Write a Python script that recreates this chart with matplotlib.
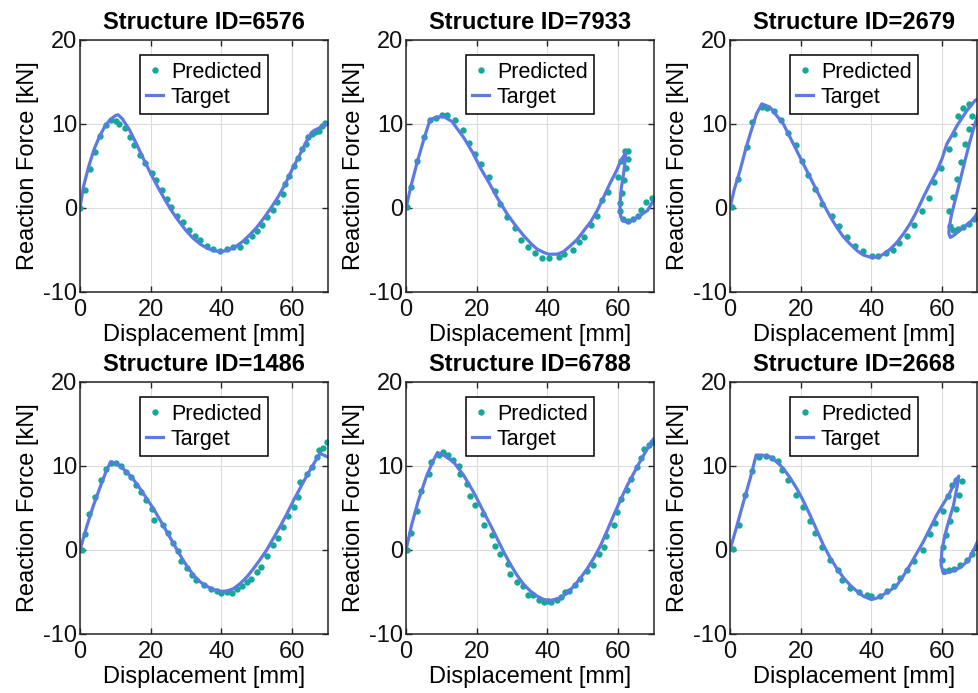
import matplotlib
matplotlib.use("Agg")
import matplotlib.pyplot as plt

plt.rcParams['font.family'] = ['Liberation Sans', 'DejaVu Sans']
plt.rcParams['axes.unicode_minus'] = False

# ---- data: displacement [mm] / reaction force [kN] ----
structure_ids = ["6576", "7933", "2679", "1486", "6788", "2668"]

# Structure 6576
t6576_x = [0, 1, 2.5, 4, 5.5, 7, 8.5, 10, 10.8, 12, 14, 16, 18, 20, 22, 24, 26, 28, 30, 32,
           34, 36, 38, 40, 42, 44, 46, 48, 50, 52, 54, 56, 58, 60, 62, 64, 65.5, 66.5, 68, 70]
t6576_y = [0, 2.6, 5, 7, 8.5, 9.7, 10.5, 11, 11.1, 10.6, 9.3, 7.6, 5.8, 4.1, 2.5, 1.0, -0.4, -1.6, -2.7, -3.6,
           -4.3, -4.8, -5.1, -5.2, -5.0, -4.6, -4.0, -3.2, -2.3, -1.2, 0, 1.3, 2.8, 4.6, 6.2, 7.9, 9.0, 9.3, 9.6, 10.1]
p6576_x = [0, 1.4, 2.8, 4.2, 5.7, 7.4, 8.8, 10.1, 11.1, 12.7, 14.2, 15.4, 17, 18.4, 20.3, 21.5, 23.1,
           24.5, 25.8, 27.4, 29, 30.7, 32.5, 34, 35.8, 37.7, 39.6, 41.5, 43.4, 45.3, 47, 48.6, 50,
           51.6, 52.8, 54.5, 55.7, 57.4, 58, 59.2, 60.4, 61.6, 62.7, 64, 64.6, 65.6, 66.5, 67.5, 68.4, 69.3]
p6576_y = [0, 2.2, 4.6, 6.7, 8.6, 9.9, 10.5, 10.4, 10.0, 9.5, 8.4, 7.5, 6.3, 5.4, 4.2, 3.3, 2.1,
           1.1, 0.1, -1, -1.7, -2.6, -3.3, -3.8, -4.5, -4.9, -5.1, -4.9, -4.7, -4.6, -3.9, -3.3, -2.7,
           -2, -1.1, -0.2, 0.7, 1.7, 2.9, 3.8, 5, 6, 7, 7.6, 8.4, 8.8, 9, 9.2, 9.8, 10.1]

# Structure 7933
t7933_x = [0, 1.4, 3.2, 5.2, 6.8, 8.5, 10.6, 13, 16.3, 19, 21, 23.5, 25.7, 28.6, 31, 33.3, 35.5,
           37.1, 39, 40.4, 42.8, 44.5, 46.5, 48.5, 50.3, 52.3, 54.1, 56, 57.9, 59.5, 60.7, 62.2,
           61.9, 61.5, 60.9, 60.6, 60.5, 60.8, 61.7, 63.1, 65.5, 68.3, 70]
t7933_y = [0, 2.6, 5.5, 8.4, 10.5, 10.8, 10.9, 10.3, 8.4, 6.5, 4.8, 3, 1.3, -0.7, -2.1, -3.3, -4.3,
           -4.9, -5.3, -5.5, -5.5, -5.2, -4.5, -3.7, -2.7, -1.6, -0.3, 1.4, 3.1, 4.4, 5.6, 6.6,
           5.3, 4, 2.4, 0.9, -0.4, -1.1, -1.6, -1.7, -1.1, -0.3, 0.9]
p7933_x = [0.2, 1.4, 3.2, 5.2, 6.8, 8.5, 10.1, 11.7, 13.9, 16, 17.8, 19.6, 21.2, 23.6, 25.1, 26.7,
           28.6, 30.7, 32.5, 34.6, 36.5, 38.5, 40.4, 43.2, 44.8, 47.1, 48.9, 50.3, 52.2, 53.9, 55.5,
           57.2, 60, 60.9, 62, 62.9, 62.8, 62.2, 61.7, 61.2, 60.5, 60.5, 61.5, 62.8, 64.3, 65.5,
           66.4, 67.8, 69.7]
p7933_y = [0.1, 2.5, 5.6, 8.4, 10.5, 10.7, 11.1, 11.1, 10.5, 9.3, 7.7, 6.4, 5.2, 3.7, 2.0, 0.5,
           -1.1, -2.4, -3.8, -4.7, -5.4, -6.0, -6.0, -5.8, -5.5, -5.0, -4.0, -3.5, -2.0, -0.9, 0.9,
           1.9, 3.7, 5.6, 6.8, 6.8, 5.8, 4.8, 3.3, 1.8, 0.6, -0.4, -1.3, -1.6, -1.3, -0.9,
           -0.2, 0.7, 1.2]

# Structure 2679
t2679_x = [0, 1.2, 2.8, 4.3, 5.7, 7.5, 9, 11.3, 13, 15.1, 17, 18.9, 20.8, 22.6, 24.5, 26.4, 28.3,
           30.2, 32, 34, 36, 37.7, 40.1, 42, 43.4, 45.3, 47.2, 49, 50.9, 52.8, 54.7, 56.6, 58.5, 60,
           61.3, 62.8, 64.2, 65.6, 67, 68.2, 69.3, 70.5, 71.2, 70.8, 70.0, 69, 67.9, 66.5, 65.1,
           63.9, 62.7, 62.0, 61.9, 62.3, 63.2, 64.6, 66, 67.5, 68.9, 70.3]
t2679_y = [0, 2.2, 4.4, 6.8, 8.8, 11.2, 12.4, 12, 11.1, 10, 8.4, 6.8, 5.2, 3.7, 2.1, 0.5, -1,
           -2.3, -3.4, -4.3, -5.1, -5.6, -5.9, -5.8, -5.5, -4.9, -4.1, -3.1, -1.9, -0.4, 1.3, 2.9, 4.4, 5.9,
           7.6, 8.7, 9.8, 10.7, 11.6, 12.2, 12.8, 13.1, 13.0, 12.2, 11.0, 9.6, 8.0, 5.7, 3.3,
           1.3, -0.7, -2.3, -3.0, -3.5, -3.3, -2.8, -2.3, -1.8, -1.3, -0.3]
p2679_x = [0.5, 2.4, 4.7, 6.1, 9, 10.4, 12.5, 14.4, 16.3, 18.6, 20.5, 22.2, 23.9, 25.9, 28.8, 30.7,
           33, 35.4, 37.5, 40.1, 41.8, 44.2, 46, 47.9, 50, 51.9, 54.2, 56.3, 57.8, 59.6, 62, 63.4,
           64.6, 66, 67.5, 68.4, 67.7, 66.5, 65.3, 64.2, 63, 61.8, 62.3, 63.2, 64.6, 66, 67.5, 68.9]
p2679_y = [0.1, 3.4, 7.3, 10.2, 12, 11.9, 11.5, 10.5, 8.9, 7.5, 5.6, 3.9, 2.3, 0.5, -0.9, -2.2,
           -3.5, -4.5, -5.1, -5.7, -5.7, -5.4, -5, -4.2, -3.3, -2, -0.4, 1.2, 3.1, 4.8, 7, 8.8,
           10.9, 11.9, 12.4, 11, 9.4, 7.6, 5.5, 3.5, 1.3, -0.4, -2.2, -2.6, -2.5, -2.3, -1.9, -1.3]

# Structure 1486
t1486_x = [0, 1.9, 3.8, 5.7, 7.5, 8.7, 10.4, 13.2, 15.1, 17, 18.9, 20.8, 22.6, 24.5, 26.4, 28.3,
           30.2, 32.1, 34, 35.8, 37.7, 39.6, 41.5, 43.4, 45.3, 47.2, 49.1, 51, 52.8, 54.7, 56.6,
           58.5, 60.4, 62.3, 64.2, 65.6, 67, 67.9, 68.9, 70]
t1486_y = [0, 2.8, 5.3, 7.5, 9.5, 10.5, 10.3, 9.3, 8.4, 7.3, 6.1, 4.9, 3.6, 2.2, 0.8, -0.6,
           -1.9, -3, -3.8, -4.3, -4.7, -4.9, -4.9, -4.6, -4, -3.2, -2.2, -1.1, 0, 1.4, 2.8,
           4.3, 5.9, 7.4, 8.9, 9.9, 10.9, 11.5, 11.3, 11.1]
p1486_x = [0.5, 1.4, 2.6, 4.2, 5.8, 7.4, 8.8, 10.2, 11.5, 12.9, 14.4, 15.8, 17.2, 18.6, 20.3, 20.9,
           23.4, 24.8, 26.2, 27.8, 28.5, 30.2, 31.6, 32.8, 35.1, 37, 38.7, 39.8, 41.5, 43.1, 44.5,
           45.8, 47.2, 48.3, 50, 51.2, 52.8, 54.5, 56.1, 57.5, 58.9, 60.4, 61.6, 62.3, 64.2, 65.6,
           67, 67.5, 68.7, 69.8]
p1486_y = [0, 1.9, 4.3, 6.3, 8.3, 9.6, 10.4, 10.3, 10, 9.3, 8.7, 7.7, 6.9, 5.9, 4.9, 3.6,
           3, 2, 0.8, -0.1, -1.3, -2.2, -3, -3.6, -4.2, -4.7, -4.9, -5.1, -5, -5.1, -4.6,
           -4.3, -3.8, -3.4, -2.6, -2, -0.7, 0.6, 1.4, 2.7, 4, 5.1, 6.3, 8.1, 9.1, 9.9,
           11.1, 11.9, 12.1, 12.8]

# Structure 6788
t6788_x = [0, 1.6, 3.5, 5.9, 7.8, 8.9, 10.6, 13.4, 16.3, 19.1, 22, 24.8, 27.6, 29.5, 31.4, 33.3,
           35.2, 37.1, 39, 40.9, 43.7, 45.6, 47.5, 49.4, 51.3, 53.2, 55.1, 57, 58.8, 60.7, 62.6,
           64.5, 66.4, 68.2, 70]
t6788_y = [0, 3, 5.9, 8.9, 10.7, 11.6, 11.3, 10.5, 8.9, 6.9, 4.5, 2.2, -0.2, -1.7, -3, -4.1,
           -4.9, -5.5, -5.9, -6, -5.7, -5.1, -4.3, -3.3, -2.2, -0.9, 0.6, 2.4, 4.2, 6, 7.7,
           9.2, 10.7, 12, 13.2]
p6788_x = [0.4, 1.3, 3.2, 4.3, 6.5, 7, 9.2, 10.6, 12, 13.4, 14.9, 15.3, 17.2, 18.2, 19.6, 21.8,
           22.1, 24.3, 25.3, 26.7, 28.8, 29.3, 31.4, 33.1, 34.4, 35.9, 37.6, 39, 40.2, 41.1, 42.6,
           43.7, 45.1, 46.1, 47.8, 49.1, 51.3, 53, 54.6, 56, 56.5, 58.7, 59.6, 60.9, 62.6, 63.6,
           65.3, 66.6, 67.4, 68.8, 69.7]
p6788_y = [0, 2, 4.6, 7, 9, 10.5, 11.3, 11.7, 11.3, 10.7, 10, 9, 7.9, 6.4, 5.4, 4.3,
           3, 1.8, 0.5, -0.5, -1.7, -2.8, -3.8, -4.3, -5.3, -5.4, -6, -6.2, -6.1, -6.2, -5.9,
           -5.6, -5, -4.9, -4.2, -3.4, -2.5, -1.8, -0.5, 0.4, 1.7, 3, 4.5, 6.1, 7.1, 8.5,
           9.9, 10.9, 12, 12.5, 12.8]

# Structure 2668
t2668_x = [0, 1.9, 3.8, 5.7, 7.4, 9, 11.3, 13.2, 15.1, 17, 18.9, 20.8, 22.6, 24.5, 26.4, 28.3,
           30.2, 32.1, 34, 35.9, 37.7, 40, 41.7, 43.4, 45.3, 47.2, 49, 50.9, 52.8, 54.7, 56.6,
           58.5, 60.2, 61.8, 63.7, 64.7, 64.3, 63.2, 62.2, 61.3, 60.5, 59.9, 59.7, 60.4, 62.3,
           65.1, 67.5, 68.8, 70]
t2668_y = [0, 2.8, 5.7, 8.5, 11.3, 11.3, 11.1, 10.5, 9.7, 8.6, 7.3, 5.8, 4.2, 2.4, 0.6, -0.9,
           -2.2, -3.3, -4.2, -4.9, -5.5, -5.9, -5.7, -5.3, -4.8, -4.2, -3.1, -1.8, -0.4, 1, 2.6,
           4.2, 5.4, 6.5, 8.1, 8.8, 7.7, 5.3, 3.9, 2.6, 1.2, -0.2, -1.8, -2.8, -2.6,
           -2.1, -1.2, -0.1, 1.0]
p2668_x = [0.9, 2.6, 4.2, 6.3, 8.3, 10.1, 12, 13.5, 14.8, 16.5, 18.6, 20.6, 22.5, 23.9, 26.1, 28.3,
           30.5, 31.8, 34, 36.5, 38.7, 39.8, 42.5, 44.5, 46.4, 48.1, 50, 51.9, 54.5, 56.6, 58,
           60.2, 61.6, 62.7, 63.8, 65.6, 64.7, 64, 62.3, 61.1, 60.2, 59.9, 60.6, 61.9, 63.3, 65,
           66.9, 68.4, 69.8]
p2668_y = [0.1, 3, 6.5, 9.4, 11.1, 11.2, 10.9, 10.6, 9.5, 8.3, 6.6, 5.1, 3.5, 2, 0.4, -1.2,
           -2.4, -3.6, -4.5, -5, -5.3, -5.5, -5.5, -4.9, -4.3, -3.3, -2.4, -1.3, 0, 1.9, 3.2,
           4.7, 6.4, 7.7, 8.3, 8.2, 6.6, 4.9, 3.4, 1.8, 0.3, -1.2, -2.5, -2.4, -2.3, -1.8,
           -1.2, -0.5, 0.4]

target_x = [t6576_x, t7933_x, t2679_x, t1486_x, t6788_x, t2668_x]
target_y = [t6576_y, t7933_y, t2679_y, t1486_y, t6788_y, t2668_y]
pred_x = [p6576_x, p7933_x, p2679_x, p1486_x, p6788_x, p2668_x]
pred_y = [p6576_y, p7933_y, p2679_y, p1486_y, p6788_y, p2668_y]

x_ticks = [0, 20, 40, 60]
y_ticks = [-10, 0, 10, 20]

# ---- styling ----
PRED_COLOR = '#14a898'
TARGET_COLOR = '#5b7be3'
AXIS_COLOR = '#262626'
FS = 17

W, H = 979, 693
fig = plt.figure(figsize=(W / 100, H / 100), dpi=100)

lefts = [80, 406, 730]
tops = [40, 382]
ax_w, ax_h = 247.5, 252

for i, sid in enumerate(structure_ids):
    r, c = divmod(i, 3)
    l, t = lefts[c], tops[r]
    ax = fig.add_axes([l / W, 1 - (t + ax_h) / H, ax_w / W, ax_h / H])
    ax.plot(pred_x[i], pred_y[i], linestyle='none', marker='o', markersize=4.6,
            markeredgewidth=0, color=PRED_COLOR, label='Predicted')
    ax.plot(target_x[i], target_y[i], color=TARGET_COLOR, linewidth=2.3,
            solid_joinstyle='round', label='Target')
    ax.set_xlim(0, 70)
    ax.set_ylim(-10, 20)
    ax.set_xticks(x_ticks)
    ax.set_yticks(y_ticks)
    ax.grid(True, color='#dcdcdc', linewidth=0.8)
    ax.set_axisbelow(True)
    for s in ax.spines.values():
        s.set_color(AXIS_COLOR)
        s.set_linewidth(1.1)
    ax.tick_params(direction='in', length=4, width=1.0, color=AXIS_COLOR,
                   top=True, right=True, labelsize=FS, labelcolor='#111111')
    ax.tick_params(axis='y', pad=2)
    ax.tick_params(axis='x', pad=5)
    ax.set_title(f'Structure ID={sid}', fontsize=FS, fontweight='bold', pad=8)
    ax.set_xlabel('Displacement [mm]', fontsize=FS, labelpad=2.5)
    ax.set_ylabel('Reaction Force [kN]', fontsize=FS, labelpad=3)
    leg = ax.legend(loc='upper center', bbox_to_anchor=(0.5, 0.94), fontsize=15.5,
                    numpoints=1, fancybox=False, framealpha=1, edgecolor='black',
                    handlelength=0.8, handletextpad=0.35, borderpad=0.3,
                    labelspacing=0.2, borderaxespad=0)
    leg.get_frame().set_linewidth(1.1)

fig.savefig('out.png', dpi=100)
